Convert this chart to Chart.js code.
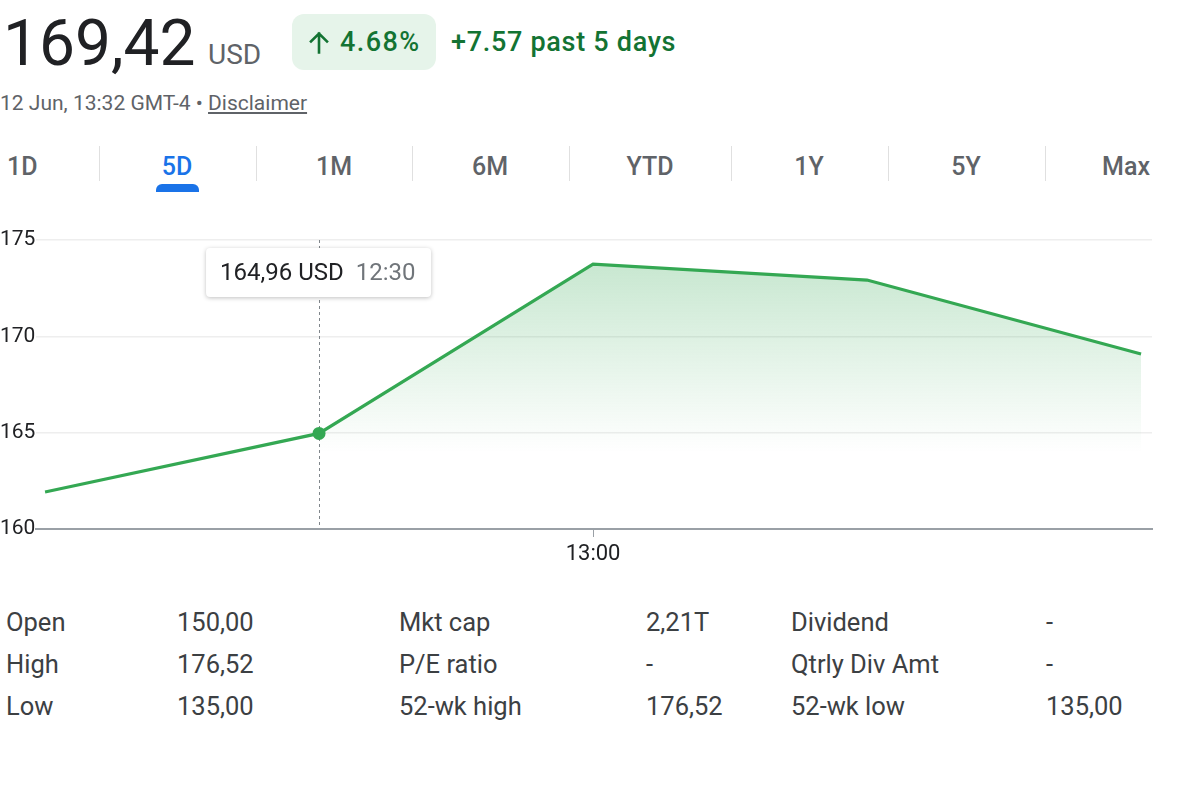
<!DOCTYPE html>
<html><head><meta charset="utf-8">
<script src="https://cdn.jsdelivr.net/npm/chart.js@4"></script>
<style>
html,body{margin:0;padding:0;background:#fff;width:1185px;height:799px;overflow:hidden;font-family:Roboto,"Noto Sans",Arial,sans-serif;}
.abs{position:absolute;white-space:nowrap;line-height:1;}
#price{left:3px;top:12px;font-size:64px;color:#202124;}
#cur{left:208px;top:41px;font-size:28px;color:#5f6368;}
#badge{left:292px;top:14px;width:144px;height:56px;background:#e6f4ea;border-radius:12px;}
#arrow{left:308px;top:30px;}
#pct{left:340px;top:29px;font-size:27px;color:#137333;font-weight:500;letter-spacing:1.4px;}
#chg{left:451px;top:29px;font-size:27px;color:#137333;font-weight:500;letter-spacing:0.7px;}
#date{left:0px;top:93px;font-size:21px;color:#5f6368;}
#date u{text-decoration:underline;}
.tab{top:154px;font-size:25px;color:#5f6368;font-weight:500;}
.div{top:146px;width:1px;height:35px;background:#e0e0e0;}
#ul{left:156px;top:184px;width:43px;height:8px;background:#1a73e8;border-radius:6px 6px 0 0;}
.st{font-size:25.5px;color:#3c4043;}
#wrap{position:absolute;left:0;top:225px;width:1185px;height:360px;}
</style></head><body>
<div id="price" class="abs">169,42</div>
<div id="cur" class="abs">USD</div>
<div id="badge" class="abs"></div>
<svg id="arrow" class="abs" width="22" height="24" viewBox="0 0 22 24"><path d="M11 22.5 V3.5 M3 11.5 L11 3.5 L19 11.5" fill="none" stroke="#137333" stroke-width="2.6" stroke-linecap="square"/></svg>
<div id="pct" class="abs">4.68%</div>
<div id="chg" class="abs">+7.57 past 5 days</div>
<div id="date" class="abs">12 Jun, 13:32 GMT-4 • <u>Disclaimer</u></div>
<div id="tabs"></div>
<div id="ul" class="abs"></div>
<div id="stats"></div>
<div id="wrap"><canvas id="c"></canvas></div>
<script>
// ---- data ----
const times = ['12:00','12:30','13:00','13:30','14:00'];
const prices = [161.92, 164.96, 173.75, 172.92, 169.08];
const yTicks = [160, 165, 170, 175];
const xTickLabels = ['13:00'];
const hoverIndex = 1;
const tooltipValue = '164,96 USD';
const tooltipTime = '12:30';
const tabLabels = ['1D','5D','1M','6M','YTD','1Y','5Y','Max'];
const statLabels1 = ['Open','High','Low'];
const statValues1 = ['150,00','176,52','135,00'];
const statLabels2 = ['Mkt cap','P/E ratio','52-wk high'];
const statValues2 = ['2,21T','-','176,52'];
const statLabels3 = ['Dividend','Qtrly Div Amt','52-wk low'];
const statValues3 = ['-','-','135,00'];

// ---- tabs ----
const tabCenters = [21,177,334,490,650,809,966,1126];
const dividers = [99,256,412,569,731,888,1045];
let th = '';
tabLabels.forEach((t,i)=>{
  const col = i===1 ? '#1a73e8' : '#5f6368';
  if(i===0) th += `<div class="abs tab" style="left:7px;color:${col}">${t}</div>`;
  else if(i===tabLabels.length-1) th += `<div class="abs tab" style="right:35px;color:${col}">${t}</div>`;
  else th += `<div class="abs tab" style="left:${tabCenters[i]}px;transform:translateX(-50%);color:${col}">${t}</div>`;
});
dividers.forEach(x=>{ th += `<div class="abs div" style="left:${x}px"></div>`; });
document.getElementById('tabs').innerHTML = th;

// ---- stats ----
const colX = [6,177,399,646,791,1046];
const rowY = [610,652,694];
const cols = [statLabels1,statValues1,statLabels2,statValues2,statLabels3,statValues3];
let sh='';
cols.forEach((c,ci)=>c.forEach((t,ri)=>{ sh += `<div class="abs st" style="left:${colX[ci]}px;top:${rowY[ri]}px">${t}</div>`; }));
document.getElementById('stats').innerHTML = sh;

// ---- chart ----
const fillData = prices.map((v,i)=> i>=hoverIndex ? v : null);
const xs = prices.map((_,i)=>i);

const overlay = {
  id:'overlay',
  beforeDatasetsDraw(chart){
    const ctx = chart.ctx, meta = chart.getDatasetMeta(0);
    const p = meta.data[hoverIndex];
    const a = chart.chartArea;
    ctx.save();
    ctx.strokeStyle = '#80868b'; ctx.lineWidth = 1; ctx.setLineDash([3,3]);
    ctx.beginPath(); ctx.moveTo(Math.round(p.x)+0.5, a.top); ctx.lineTo(Math.round(p.x)+0.5, a.bottom-4); ctx.stroke();
    ctx.restore();
  },
  afterDraw(chart){
    const ctx = chart.ctx, meta = chart.getDatasetMeta(0);
    const p = meta.data[hoverIndex];
    const a = chart.chartArea;
    const w = 225, h = 49;
    const x = p.x - 113, y = a.top + 8;
    ctx.save();
    ctx.shadowColor = 'rgba(0,0,0,0.25)'; ctx.shadowBlur = 4; ctx.shadowOffsetY = 1;
    ctx.fillStyle = '#fff';
    ctx.beginPath(); ctx.roundRect(x,y,w,h,4); ctx.fill();
    ctx.restore();
    ctx.save();
    ctx.textBaseline = 'middle';
    ctx.font = '24px Roboto';
    ctx.fillStyle = '#202124';
    ctx.fillText(tooltipValue, x+14, y+h/2+1);
    const tw = ctx.measureText(tooltipValue).width;
    ctx.fillStyle = '#70757a';
    ctx.fillText(tooltipTime, x+14+tw+12, y+h/2+1);
    ctx.restore();
  }
};

new Chart(document.getElementById('c'), {
  type:'line',
  data:{
    datasets:[
      {
        data: xs.map((x,i)=>({x, y:prices[i]})),
        borderColor:'#34a853', borderWidth:3.2, fill:false,
        pointRadius: c => c.dataIndex===hoverIndex ? 6.5 : 0,
        pointBackgroundColor:'#34a853', pointBorderWidth:0,
        tension:0, order:0
      },
      {
        data: xs.map((x,i)=>({x, y:fillData[i]})),
        borderWidth:0, pointRadius:0, spanGaps:false,
        fill:'start', order:1,
        backgroundColor: c => {
          const ch = c.chart, a = ch.chartArea;
          if(!a) return 'rgba(52,168,83,0.2)';
          const top = ch.scales.y.getPixelForValue(Math.max(...prices));
          const bot = ch.scales.y.getPixelForValue(164);
          const g = ch.ctx.createLinearGradient(0, top, 0, bot);
          g.addColorStop(0,'rgba(52,168,83,0.27)');
          g.addColorStop(1,'rgba(52,168,83,0)');
          return g;
        }
      }
    ]
  },
  options:{
    responsive:true, maintainAspectRatio:false, animation:false,
    layout:{padding:{top:15,right:33,left:0,bottom:0}},
    plugins:{legend:{display:false}, tooltip:{enabled:false}},
    scales:{
      x:{
        type:'linear', min:-0.033, max:4.04,
        afterBuildTicks: s => { s.ticks = xTickLabels.map(l=>({value: times.indexOf(l)})); },
        afterFit: s => { s.height = 56; },
        ticks:{ callback: v => times[v], font:{family:'Roboto',size:22}, color:'#202124', padding:4, maxRotation:0 },
        grid:{ display:true, drawOnChartArea:false, drawTicks:true, tickLength:8, color:'#9aa0a6' },
        border:{ display:true, color:'#9aa0a6', width:2 }
      },
      y:{
        min:160, max:175,
        afterBuildTicks: s => { s.ticks = yTicks.map(v=>({value:v})); },
        afterFit: s => { s.width = 36; },
        ticks:{ font:{family:'Roboto',size:21}, color:'#202124', crossAlign:'far', padding:2 },
        grid:{ color:'#eeeeee', drawTicks:false, lineWidth:1.5 },
        border:{ display:false }
      }
    }
  },
  plugins:[overlay]
});
</script>
</body></html>
